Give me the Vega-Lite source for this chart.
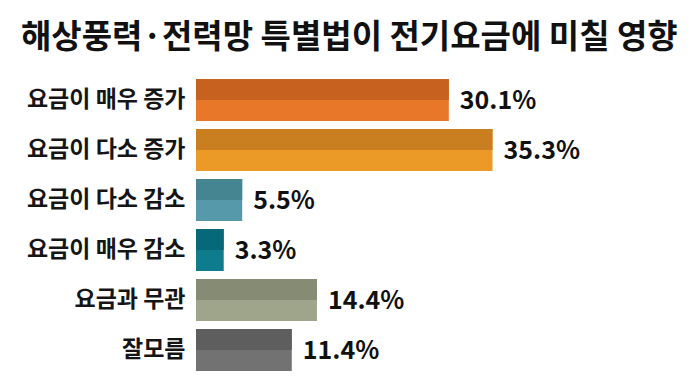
{
  "$schema": "https://vega.github.io/schema/vega-lite/v6.json",
  "width": 420,
  "height": 300,
  "autosize": {"type": "none"},
  "padding": {"left": 196, "top": 75, "right": 84, "bottom": 12},
  "background": "white",
  "config": {"view": {"stroke": null}, "font": "Noto Sans CJK KR"},
  "title": {
    "text": "해상풍력·전력망 특별법이 전기요금에 미칠 영향",
    "anchor": "start",
    "frame": "group",
    "dx": -175,
    "offset": 20,
    "fontSize": 33,
    "fontWeight": "bold",
    "color": "#111111",
    "font": "Noto Sans CJK KR"
  },
  "data": {
    "values": [
      {"category": "요금이 매우 증가", "value": 0.301},
      {"category": "요금이 다소 증가", "value": 0.353},
      {"category": "요금이 다소 감소", "value": 0.055},
      {"category": "요금이 매우 감소", "value": 0.033},
      {"category": "요금과 무관", "value": 0.144},
      {"category": "잘모름", "value": 0.114}
    ]
  },
  "encoding": {
    "y": {
      "field": "category",
      "type": "nominal",
      "sort": null,
      "scale": {"paddingInner": 0.16, "paddingOuter": 0.08},
      "axis": {
        "title": null,
        "ticks": false,
        "domain": false,
        "labelPadding": 11,
        "labelFontSize": 23,
        "labelFontWeight": "bold",
        "labelColor": "#151515",
        "labelFont": "Noto Sans CJK KR"
      }
    },
    "x": {
      "field": "value",
      "type": "quantitative",
      "scale": {"domain": [0, 0.5], "nice": false},
      "axis": null
    }
  },
  "layer": [
    {
      "mark": {"type": "bar"},
      "encoding": {
        "color": {
          "field": "category",
          "type": "nominal",
          "legend": null,
          "scale": {
            "domain": ["요금이 매우 증가", "요금이 다소 증가", "요금이 다소 감소", "요금이 매우 감소", "요금과 무관", "잘모름"],
            "range": ["#e8772a", "#ec9a27", "#5699ab", "#0e7c8c", "#9ea58a", "#727272"]
          }
        }
      }
    },
    {
      "mark": {"type": "bar", "height": 21, "yOffset": -10.5},
      "encoding": {
        "color": {
          "field": "category",
          "type": "nominal",
          "legend": null,
          "scale": {
            "domain": ["요금이 매우 증가", "요금이 다소 증가", "요금이 다소 감소", "요금이 매우 감소", "요금과 무관", "잘모름"],
            "range": ["#c7611f", "#c97f1f", "#458592", "#07687a", "#868c74", "#5e5e5f"]
          }
        }
      }
    },
    {
      "mark": {"type": "text", "align": "left", "baseline": "middle", "dx": 11, "dy": 1, "fontSize": 25, "fontWeight": "bold", "color": "#111111", "font": "Noto Sans CJK KR"},
      "encoding": {
        "text": {"field": "value", "type": "quantitative", "format": ".1%"}
      }
    }
  ],
  "resolve": {"scale": {"color": "independent"}}
}
